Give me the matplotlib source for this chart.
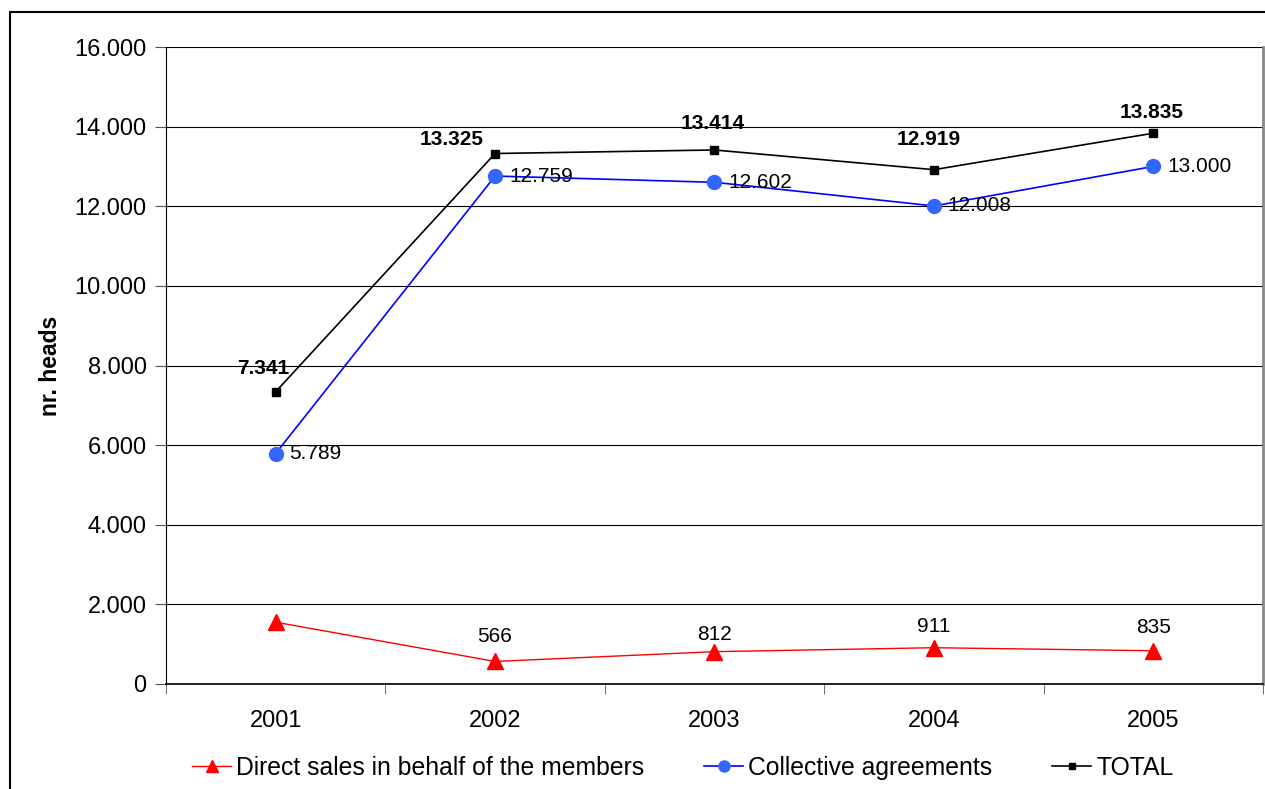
import matplotlib.pyplot as plt
import numpy as np

plt.rcParams['font.family'] = ['Liberation Sans', 'DejaVu Sans']

years = ['2001', '2002', '2003', '2004', '2005']
direct = [1552, 566, 812, 911, 835]
collective = [5789, 12759, 12602, 12008, 13000]
total = [7341, 13325, 13414, 12919, 13835]

# label offsets (points), as placed in the original
total_off = [(-9, 17), (-31, 10), (-1, 19), (-4, 22), (-1, 15)]
direct_off = [(0, 0), (0, 18), (0, 12), (0, 15), (0, 17)]


def fmt(v):
    return f'{v:,}'.replace(',', '.')


fig = plt.figure(figsize=(12.65, 7.89), dpi=100)
ax = fig.add_axes([0.1312, 0.1331, 0.8672, 0.8073])
x = np.arange(len(years))

ax.plot(x, direct, color='red', lw=1, marker='^', ms=11, label='Direct sales in behalf of the members', zorder=3)
ax.plot(x, collective, color='blue', lw=1.2, marker='o', ms=10, mfc='#3366ff', mec='#3366ff',
        label='Collective agreements', zorder=3)
ax.plot(x, total, color='black', lw=1.2, marker='s', ms=6, label='TOTAL', zorder=3)

for i, v in enumerate(direct):
    if i > 0:
        ax.annotate(fmt(v), (x[i], v), xytext=direct_off[i], textcoords='offset points',
                    ha='center', va='center', fontsize=15)
for i, v in enumerate(collective):
    ax.annotate(fmt(v), (x[i], v), xytext=(10, 0), textcoords='offset points',
                ha='left', va='center', fontsize=15)
for i, v in enumerate(total):
    ax.annotate(fmt(v), (x[i], v), xytext=total_off[i], textcoords='offset points',
                ha='center', va='center', fontsize=15, fontweight='bold')

ax.set_xlim(-0.5, 4.5)
ax.set_ylim(0, 16000)
ax.set_yticks(np.arange(0, 16001, 2000))
ax.set_yticklabels([fmt(v) for v in range(0, 16001, 2000)], fontsize=17)
ax.set_xticks(x)
ax.set_xticklabels(years, fontsize=17)
ax.set_xticks(np.arange(-0.5, 4.6, 1), minor=True)
ax.tick_params(axis='x', which='major', length=0, pad=19)
ax.tick_params(axis='x', which='minor', length=7, direction='out', color='#555555')
ax.tick_params(axis='y', length=8, direction='out', color='#555555', pad=6)
ax.yaxis.grid(True, color='black', lw=0.8)
ax.set_axisbelow(True)
ax.set_ylabel('nr. heads', fontsize=16.5, fontweight='bold')
ax.yaxis.set_label_coords(-0.095, 0.5)

ax.spines['top'].set_visible(False)
ax.spines['right'].set_color('#888888')
ax.spines['right'].set_linewidth(2)
ax.spines['left'].set_color('black')
ax.spines['bottom'].set_color('black')
ax.spines['bottom'].set_linewidth(1.2)

ax.legend(loc='center', bbox_to_anchor=(0.471, -0.132), ncol=3, frameon=False, fontsize=17.8,
          handlelength=1.6, handletextpad=0.2, columnspacing=2.4, markerscale=0.8,
          borderaxespad=0, borderpad=0)

fig.patches.append(plt.Rectangle((10 / 1265, -0.1), 1.2, (789 - 12) / 789 + 0.1,
                                 transform=fig.transFigure, fill=False, ec='black', lw=1.5))

fig.savefig('out.png', dpi=100)
